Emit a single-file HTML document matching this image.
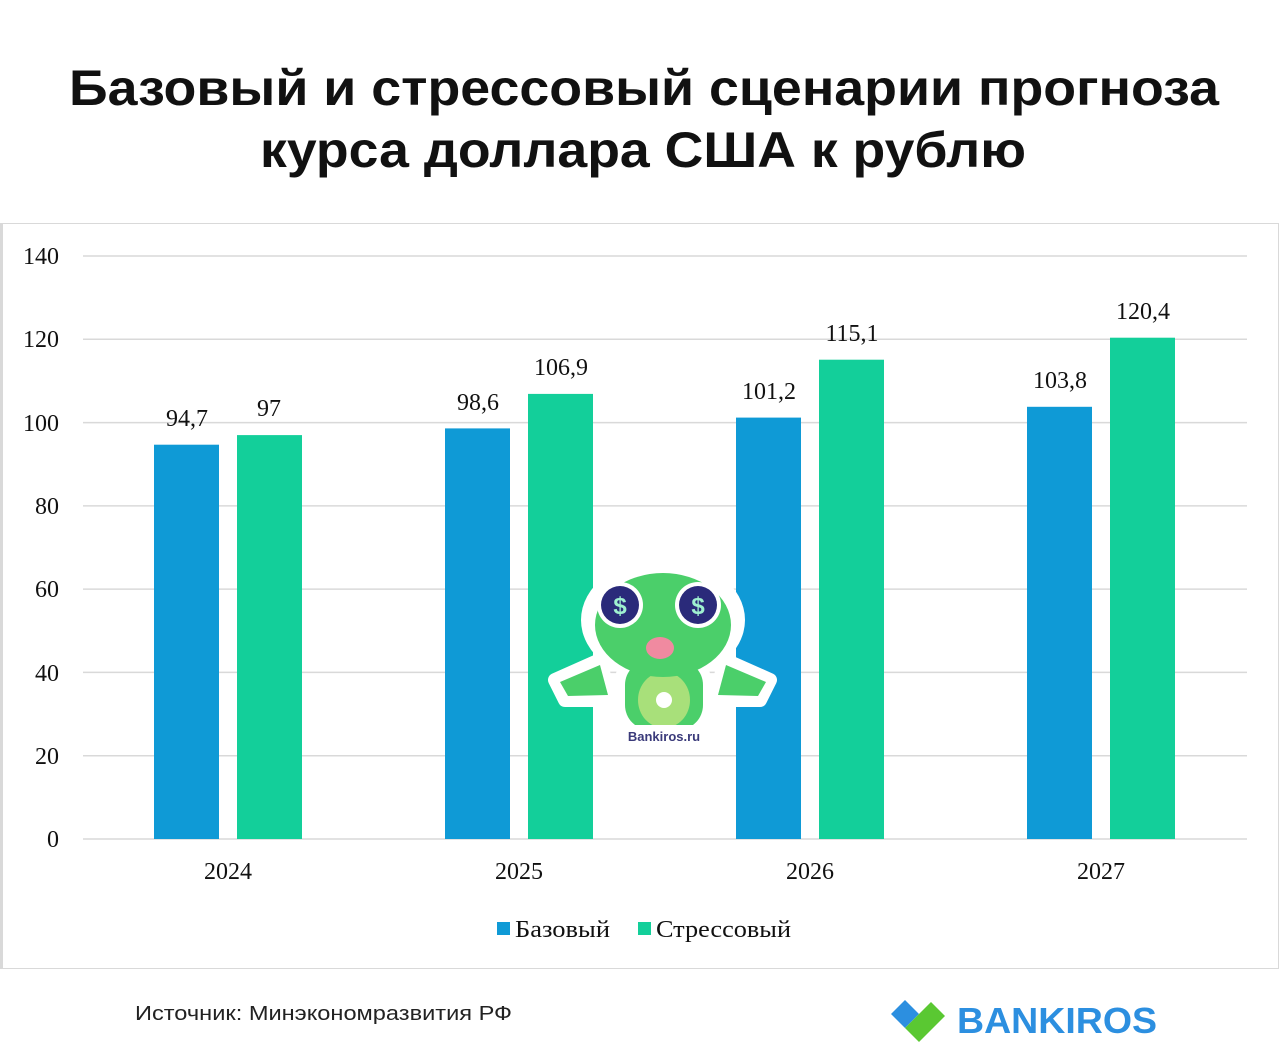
<!DOCTYPE html>
<html><head><meta charset="utf-8"><style>
html,body{margin:0;padding:0;background:#fff;width:1280px;height:1061px;overflow:hidden}
svg{display:block}
</style></head><body>
<svg width="1280" height="1061" viewBox="0 0 1280 1061" xmlns="http://www.w3.org/2000/svg">
<rect width="1280" height="1061" fill="#fff"/>
<g font-family="Liberation Sans, sans-serif" font-weight="bold" font-size="50" fill="#111" text-anchor="middle">
<text x="644" y="105" textLength="1150" lengthAdjust="spacingAndGlyphs">Базовый и стрессовый сценарии прогноза</text>
<text x="643" y="167" textLength="766" lengthAdjust="spacingAndGlyphs">курса доллара США к рублю</text>
</g>
<rect x="0.5" y="223.5" width="1278" height="745" fill="#fff" stroke="#d9d9d9"/>
<rect x="0" y="223" width="3" height="746" fill="#d9d9d9"/>
<g stroke="#d9d9d9" stroke-width="1.5">
<line x1="83" x2="1247" y1="256" y2="256"/><line x1="83" x2="1247" y1="339.3" y2="339.3"/>
<line x1="83" x2="1247" y1="422.6" y2="422.6"/><line x1="83" x2="1247" y1="505.9" y2="505.9"/>
<line x1="83" x2="1247" y1="589.1" y2="589.1"/><line x1="83" x2="1247" y1="672.4" y2="672.4"/>
<line x1="83" x2="1247" y1="755.7" y2="755.7"/><line x1="83" x2="1247" y1="839" y2="839"/>
</g>
<g font-family="Liberation Serif, serif" font-size="24" fill="#111" text-anchor="end">
<text x="59" y="264">140</text><text x="59" y="347">120</text><text x="59" y="431">100</text>
<text x="59" y="514">80</text><text x="59" y="597">60</text><text x="59" y="681">40</text>
<text x="59" y="764">20</text><text x="59" y="847">0</text>
</g>
<g fill="#0f9ad6">
<rect x="154" y="444.7" width="65" height="394.3"/><rect x="445" y="428.4" width="65" height="410.6"/>
<rect x="736" y="417.6" width="65" height="421.4"/><rect x="1027" y="406.8" width="65" height="432.2"/>
</g>
<g fill="#13cf9a">
<rect x="237" y="435.1" width="65" height="403.9"/><rect x="528" y="393.9" width="65" height="445.1"/>
<rect x="819" y="359.7" width="65" height="479.3"/><rect x="1110" y="337.7" width="65" height="501.3"/>
</g>
<g font-family="Liberation Serif, serif" font-size="24" fill="#111" text-anchor="middle">
<text x="187" y="426">94,7</text><text x="269" y="416">97</text>
<text x="478" y="410">98,6</text><text x="561" y="375">106,9</text>
<text x="769" y="399">101,2</text><text x="852" y="341">115,1</text>
<text x="1060" y="388">103,8</text><text x="1143" y="319">120,4</text>
<text x="228" y="879">2024</text><text x="519" y="879">2025</text><text x="810" y="879">2026</text><text x="1101" y="879">2027</text>
</g>
<rect x="497" y="922" width="13" height="13" fill="#0f9ad6"/>
<rect x="638" y="922" width="13" height="13" fill="#13cf9a"/>
<g font-family="Liberation Serif, serif" font-size="24" fill="#111">
<text x="515" y="937" textLength="95" lengthAdjust="spacingAndGlyphs">Базовый</text><text x="656" y="937" textLength="135" lengthAdjust="spacingAndGlyphs">Стрессовый</text>
</g>
<g>
<ellipse cx="663" cy="690" rx="50" ry="50" fill="#fff"/>
<ellipse cx="663" cy="620" rx="82" ry="62" fill="#fff"/>
<path d="M555 680 L600 660 L610 700 L565 700 Z M770 680 L725 660 L715 700 L760 700 Z" fill="#fff" stroke="#fff" stroke-width="14" stroke-linejoin="round"/>
<path d="M560 682 L600 665 L608 695 L568 696 Z M766 682 L726 665 L718 695 L758 696 Z" fill="#4bcf6a"/>
<rect x="625" y="660" width="78" height="70" rx="25" fill="#4bcf6a"/>
<ellipse cx="664" cy="700" rx="26" ry="28" fill="#a8e07a"/>
<ellipse cx="663" cy="625" rx="68" ry="52" fill="#4bcf6a"/>
<circle cx="620" cy="605" r="23" fill="#fff"/><circle cx="698" cy="605" r="23" fill="#fff"/>
<circle cx="620" cy="605" r="19" fill="#2a2a7a"/><circle cx="698" cy="605" r="19" fill="#2a2a7a"/>
<text x="620" y="614" font-family="Liberation Sans, sans-serif" font-weight="bold" font-size="24" fill="#9ff0d0" text-anchor="middle">$</text>
<text x="698" y="614" font-family="Liberation Sans, sans-serif" font-weight="bold" font-size="24" fill="#9ff0d0" text-anchor="middle">$</text>
<ellipse cx="660" cy="648" rx="14" ry="11" fill="#f08aa0"/>
<circle cx="664" cy="700" r="8" fill="#fff"/>
<rect x="623" y="725" width="82" height="22" rx="6" fill="#fff"/>
<text x="664" y="741" font-family="Liberation Sans, sans-serif" font-weight="bold" font-size="13" fill="#3a3a7a" text-anchor="middle">Bankiros.ru</text>
</g>
<text x="135" y="1020" font-family="Liberation Sans, sans-serif" font-size="20" fill="#222" textLength="377" lengthAdjust="spacingAndGlyphs">Источник: Минэкономразвития РФ</text>
<g>
<path d="M891 1014 L905 1000 L919 1014 L905 1028 Z" fill="#2c8fe0"/>
<path d="M905 1028 L931 1002 L945 1016 L919 1042 Z" fill="#5ac832"/>
<text x="957" y="1033" font-family="Liberation Sans, sans-serif" font-weight="bold" font-size="36" fill="#2c8fe0" textLength="200" lengthAdjust="spacingAndGlyphs">BANKIROS</text>
</g>
</svg>
</body></html>
